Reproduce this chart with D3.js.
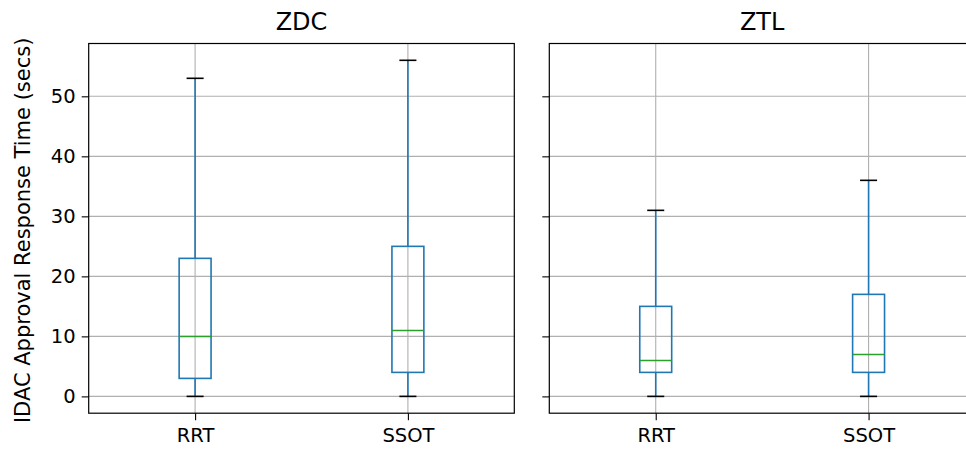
<!DOCTYPE html>
<html><head><meta charset="utf-8">
<script src="https://cdn.jsdelivr.net/npm/d3@7"></script>
<style>body{margin:0;background:#fff}svg{display:block}text{font-family:"DejaVu Sans",sans-serif;fill:#000}</style>
</head><body><svg id="c" width="966" height="449"></svg>
<script>
const panels = ["ZDC", "ZTL"];
const categories = ["RRT", "SSOT"];
// [whiskerLow, Q1, median, Q3, whiskerHigh] per category, per panel
const zdcStats = [[0, 3, 10, 23, 53], [0, 4, 11, 25, 56]];
const ztlStats = [[0, 4, 6, 15, 31], [0, 4, 7, 17, 36]];
const yTicks = [0, 10, 20, 30, 40, 50];
const yLabel = "IDAC Approval Response Time (secs)";

const svg = d3.select("#c");
const plotTop = 43.5, plotBottom = 413.2;
const y = d3.scaleLinear().domain([-2.8, 58.8]).range([plotBottom, plotTop]);
const panelX = [[88.7, 514.3], [549.3, 975]];
const statsList = [zdcStats, ztlStats];
const blue = "#1f77b4", green = "#2ca02c", grid = "#b0b0b0";

panels.forEach((name, pi) => {
  const [x0, x1] = panelX[pi];
  const x = d3.scaleLinear().domain([0.5, 2.5]).range([x0, x1]);
  const g = svg.append("g");
  yTicks.forEach(t => g.append("line").attr("x1", x0).attr("x2", x1).attr("y1", y(t)).attr("y2", y(t))
    .attr("stroke", grid).attr("stroke-width", 1.1));
  categories.forEach((c, i) => g.append("line").attr("x1", x(i + 1)).attr("x2", x(i + 1)).attr("y1", plotTop).attr("y2", plotBottom)
    .attr("stroke", grid).attr("stroke-width", 1.1));
  const bw = 0.15, cw = 0.08;
  statsList[pi].forEach((s, i) => {
    const cx = x(i + 1);
    const [lo, q1, med, q3, hi] = s;
    const hb = (x(1 + bw / 2) - x(1)), hc = (x(1 + cw / 2) - x(1));
    g.append("line").attr("x1", cx).attr("x2", cx).attr("y1", y(q1)).attr("y2", y(lo)).attr("stroke", blue).attr("stroke-width", 1.6);
    g.append("line").attr("x1", cx).attr("x2", cx).attr("y1", y(q3)).attr("y2", y(hi)).attr("stroke", blue).attr("stroke-width", 1.6);
    g.append("rect").attr("x", cx - hb).attr("width", 2 * hb).attr("y", y(q3)).attr("height", y(q1) - y(q3))
      .attr("fill", "none").attr("stroke", blue).attr("stroke-width", 1.6);
    g.append("line").attr("x1", cx - hb).attr("x2", cx + hb).attr("y1", y(med)).attr("y2", y(med)).attr("stroke", green).attr("stroke-width", 1.5);
    [lo, hi].forEach(v => g.append("line").attr("x1", cx - hc).attr("x2", cx + hc).attr("y1", y(v)).attr("y2", y(v))
      .attr("stroke", "#000").attr("stroke-width", 1.6));
  });
  g.append("rect").attr("x", x0).attr("y", plotTop).attr("width", x1 - x0).attr("height", plotBottom - plotTop)
    .attr("fill", "none").attr("stroke", "#000").attr("stroke-width", 1.2);
  const ya = d3.axisLeft(y).tickValues(yTicks).tickSize(7).tickPadding(6)
    .tickFormat(pi === 0 ? d3.format("d") : () => "");
  const yg = g.append("g").attr("transform", `translate(${x0},0)`).call(ya);
  yg.select(".domain").remove();
  yg.selectAll("line").attr("stroke", "#000").attr("stroke-width", 1.1);
  yg.selectAll("text").attr("font-size", 19.5).attr("font-family", "DejaVu Sans").attr("fill", "#000");
  const xa = d3.axisBottom(x).tickValues([1, 2]).tickSize(7).tickPadding(8).tickFormat(d => categories[d - 1]);
  const xg = g.append("g").attr("transform", `translate(0,${plotBottom})`).call(xa);
  xg.select(".domain").remove();
  xg.selectAll("line").attr("stroke", "#000").attr("stroke-width", 1.1);
  xg.selectAll("text").attr("font-size", 19.5).attr("font-family", "DejaVu Sans").attr("fill", "#000");
  g.append("text").attr("x", (x0 + x1) / 2).attr("y", 30).attr("text-anchor", "middle").attr("font-size", 24).text(name);
});

svg.append("text").attr("transform", `translate(30,${(plotTop + plotBottom) / 2 + 2}) rotate(-90)`).attr("text-anchor", "middle")
  .attr("font-size", 21).text(yLabel);
</script></body></html>
